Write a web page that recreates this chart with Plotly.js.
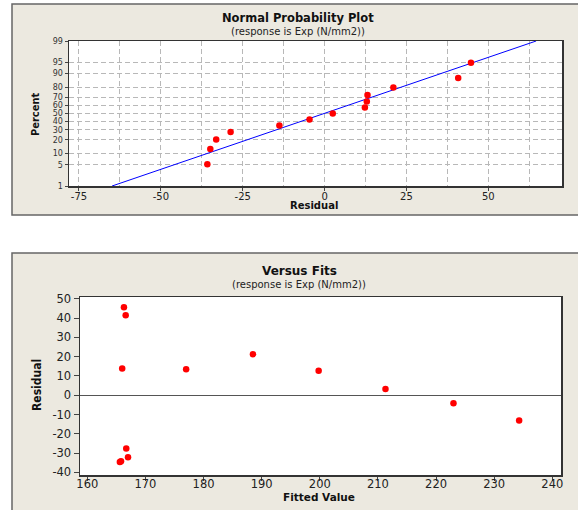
<!DOCTYPE html>
<html>
<head>
<meta charset="utf-8">
<script src="https://cdn.plot.ly/plotly-3.0.1.min.js"></script>
<style>html,body{margin:0;padding:0;background:#fff;}#chart{width:578px;height:510px;}</style>
</head>
<body>
<div id="chart"></div>
<script>
// ---- Data: Normal probability plot ----
const probResid = [-35.8, -34.9, -33.1, -28.7, -13.8, -4.6, 2.5, 12.3, 12.9, 13.1, 21.0, 40.8, 44.7];
const probPct   = [5.2, 12.7, 20.1, 27.6, 35.1, 42.5, 50.0, 57.5, 64.9, 72.4, 79.9, 87.3, 94.8];
const fitLineResid = [-64.9, 64.6];
const fitLinePct   = [1, 99];
const pctTickVals  = [1, 5, 10, 20, 30, 40, 50, 60, 70, 80, 90, 95, 99];
const pctTickText  = ['1','5','10','20','30','40','50','60','70','80','90','95','99'];
const residTickVals = [-75, -50, -25, 0, 25, 50];
const residTickText = ['-75','-50','-25','0','25','50'];

// ---- Data: Versus fits ----
const fittedVals = [166.3, 166.6, 166.0, 177.0, 188.5, 199.8, 211.3, 223.0, 234.3, 166.7, 167.0, 165.8, 165.6];
const residVals  = [45.7, 41.5, 13.9, 13.5, 21.3, 12.7, 3.3, -4.1, -13.1, -27.7, -32.2, -34.3, -34.6];
const fitTickVals = [160, 170, 180, 190, 200, 210, 220, 230, 240];
const fitTickText = ['160','170','180','190','200','210','220','230','240'];
const resTickVals = [-40, -30, -20, -10, 0, 10, 20, 30, 40, 50];
const resTickText = ['-40','-30','-20','-10','0','10','20','30','40','50'];

// inverse normal CDF (probability-scale axis transform)
function probit(p){
  const a=[-3.969683028665376e+01,2.209460984245205e+02,-2.759285104469687e+02,1.383577518672690e+02,-3.066479806614716e+01,2.506628277459239e+00];
  const b=[-5.447609879822406e+01,1.615858368580409e+02,-1.556989798598866e+02,6.680131188771972e+01,-1.328068155288572e+01];
  const c=[-7.784894002430293e-03,-3.223964580411365e-01,-2.400758277161838e+00,-2.549732539343734e+00,4.374664141464968e+00,2.938163982698783e+00];
  const d=[7.784695709041462e-03,3.224671290700398e-01,2.445134137142996e+00,3.754408661907416e+00];
  const pl=0.02425, ph=1-pl; let q,r;
  if(p<pl){q=Math.sqrt(-2*Math.log(p));return (((((c[0]*q+c[1])*q+c[2])*q+c[3])*q+c[4])*q+c[5])/((((d[0]*q+d[1])*q+d[2])*q+d[3])*q+1);}
  if(p<=ph){q=p-0.5;r=q*q;return (((((a[0]*r+a[1])*r+a[2])*r+a[3])*r+a[4])*r+a[5])*q/(((((b[0]*r+b[1])*r+b[2])*r+b[3])*r+b[4])*r+1);}
  q=Math.sqrt(-2*Math.log(1-p));return -(((((c[0]*q+c[1])*q+c[2])*q+c[3])*q+c[4])*q+c[5])/((((d[0]*q+d[1])*q+d[2])*q+d[3])*q+1);
}
const z = arr => arr.map(v => probit(v/100));

const W = 578, H = 510;
const px = x => x / W;
const py = y => 1 - y / H;

const FONT = 'DejaVu Sans, Verdana, sans-serif';
const NARROW = 'Liberation Sans Narrow, DejaVu Sans Condensed, Arial Narrow, sans-serif';
const BEIGE = '#ECE9E0';
const GRID = '#b8b8b8';
const DASH = '5px,3px';

const traces = [
  {x: fitLineResid, y: z(fitLinePct), xaxis:'x', yaxis:'y', mode:'lines',
   line:{color:'#0000ff', width:1}, hoverinfo:'skip'},
  {x: probResid, y: z(probPct), xaxis:'x', yaxis:'y', mode:'markers',
   marker:{color:'#ff0000', size:6.5, line:{width:0}}},
  {x: fittedVals, y: residVals, xaxis:'x2', yaxis:'y2', mode:'markers',
   marker:{color:'#ff0000', size:6.5, line:{width:0}}}
];

const axisCommon = {
  showline:true, linecolor:'#333', linewidth:1.5, mirror:true,
  ticks:'outside', tickcolor:'#444', tickwidth:1, fixedrange:true
};

const layout = {
  width: W, height: H,
  margin:{l:0,r:0,t:0,b:0},
  paper_bgcolor:'#ffffff',
  plot_bgcolor:'rgba(0,0,0,0)',
  showlegend:false,
  font:{family:FONT, color:'#222'},
  xaxis: Object.assign({}, axisCommon, {
    domain:[px(69), px(562)], anchor:'y',
    range:[-78.05, 72.5],
    tickmode:'array', tickvals:residTickVals, ticktext:residTickText,
    ticklen:3, ticklabelstandoff:-3, tickfont:{size:10, family:FONT, color:'#222'},
    showgrid:true, gridcolor:GRID, griddash:DASH, gridwidth:1,
    minor:{tickmode:'linear', tick0:-75, dtick:12.5, showgrid:true, gridcolor:GRID, griddash:DASH, gridwidth:1, ticks:''},
    zeroline:false
  }),
  yaxis: Object.assign({}, axisCommon, {
    domain:[py(186), py(41)], anchor:'x',
    range:[probit(0.01), probit(0.99)],
    tickmode:'array', tickvals:z(pctTickVals), ticktext:pctTickText,
    ticklen:3, tickfont:{size:8, family:FONT, color:'#333'},
    showgrid:true, gridcolor:GRID, griddash:DASH, gridwidth:1,
    zeroline:false
  }),
  xaxis2: Object.assign({}, axisCommon, {
    domain:[px(80), px(561)], anchor:'y2',
    range:[158.74, 241.5],
    tickmode:'array', tickvals:fitTickVals, ticktext:fitTickText,
    ticklen:4, ticklabelstandoff:-6, tickfont:{size:11.5, family:FONT, color:'#222'},
    showgrid:false, zeroline:false
  }),
  yaxis2: Object.assign({}, axisCommon, {
    domain:[py(475), py(297)], anchor:'x2',
    range:[-41.4, 51.0],
    tickmode:'array', tickvals:resTickVals, ticktext:resTickText,
    ticklen:5, tickfont:{size:11.5, family:FONT, color:'#222'},
    showgrid:false, zeroline:true, zerolinecolor:'#555', zerolinewidth:1
  }),
  shapes:[
    {type:'rect', xref:'paper', yref:'paper', x0:px(12), x1:1.05, y0:py(215), y1:py(4),
     fillcolor:BEIGE, line:{color:'#666', width:1.5}, layer:'below'},
    {type:'rect', xref:'paper', yref:'paper', x0:px(12), x1:1.05, y0:-0.05, y1:py(253),
     fillcolor:BEIGE, line:{color:'#666', width:1.5}, layer:'below'},
    {type:'rect', xref:'x domain', yref:'y domain', x0:0, x1:1, y0:0, y1:1,
     fillcolor:'#ffffff', line:{width:0}, layer:'below'},
    {type:'rect', xref:'x2 domain', yref:'y2 domain', x0:0, x1:1, y0:0, y1:1,
     fillcolor:'#ffffff', line:{width:0}, layer:'below'}
  ],
  annotations:[
    {text:'<b>Normal Probability Plot</b>', x:px(298), y:py(18.5), xref:'paper', yref:'paper',
     showarrow:false, xanchor:'center', yanchor:'middle', font:{size:11.5, family:FONT, color:'#111'}},
    {text:'(response is Exp (N/mm2))', x:px(298), y:py(31), xref:'paper', yref:'paper',
     showarrow:false, xanchor:'center', yanchor:'middle', font:{size:10, family:FONT, color:'#222'}},
    {text:'<b>Residual</b>', x:px(314), y:py(205.5), xref:'paper', yref:'paper',
     showarrow:false, xanchor:'center', yanchor:'middle', font:{size:10, family:FONT, color:'#111'}},
    {text:'<b>Percent</b>', x:px(36), y:py(115), xref:'paper', yref:'paper', textangle:-90,
     showarrow:false, xanchor:'center', yanchor:'middle', font:{size:11, family:NARROW, color:'#111'}},
    {text:'<b>Versus Fits</b>', x:px(299), y:py(270.5), xref:'paper', yref:'paper',
     showarrow:false, xanchor:'center', yanchor:'middle', font:{size:12, family:FONT, color:'#111'}},
    {text:'(response is Exp (N/mm2))', x:px(299), y:py(284.5), xref:'paper', yref:'paper',
     showarrow:false, xanchor:'center', yanchor:'middle', font:{size:10, family:FONT, color:'#222'}},
    {text:'<b>Fitted Value</b>', x:px(319), y:py(497), xref:'paper', yref:'paper',
     showarrow:false, xanchor:'center', yanchor:'middle', font:{size:10.5, family:FONT, color:'#111'}},
    {text:'<b>Residual</b>', x:px(36.5), y:py(385.5), xref:'paper', yref:'paper', textangle:-90,
     showarrow:false, xanchor:'center', yanchor:'middle', font:{size:12, family:NARROW, color:'#111'}}
  ]
};

Plotly.newPlot('chart', traces, layout, {staticPlot:true, displayModeBar:false});
</script>
</body>
</html>
